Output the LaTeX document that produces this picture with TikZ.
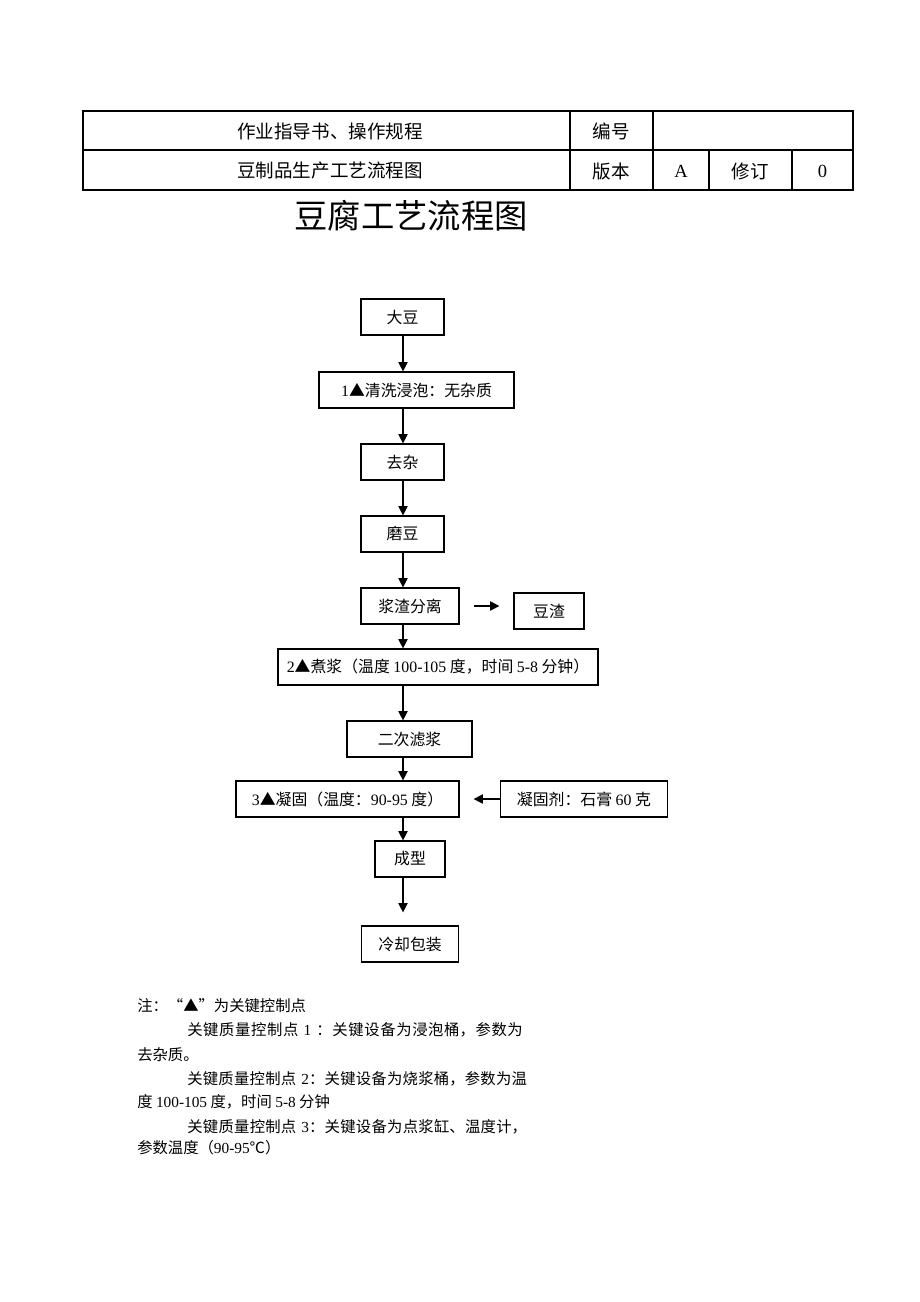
\documentclass[tikz,border=0pt]{standalone}
\usepackage{fontspec}
\setmainfont{Liberation Serif}
\newfontfamily\zh{Noto Sans CJK SC}
\usetikzlibrary{arrows.meta,positioning}
\XeTeXlinebreaklocale "zh"
\XeTeXlinebreakskip=0pt plus 2pt
\newcommand\lat[1]{{\rmfamily #1}}

\begin{document}
\begin{tikzpicture}[x=0.75pt,y=-0.75pt,
    box/.style={draw, line width=0.9pt, inner sep=0pt, minimum height=27pt,
      font=\zh\fontsize{11.9}{14}\selectfont},
    wd/.style={minimum width=#1*0.75pt},
    arr/.style={-{Triangle[length=7pt,width=7pt]}, line width=0.9pt},
    cell/.style={inner sep=0pt, font=\zh\fontsize{13.9}{16}\selectfont},
    note/.style={anchor=west, inner sep=0pt, font=\zh\fontsize{11.5}{14}\selectfont}]
  \useasboundingbox (0,0) rectangle (920,1302);

  \draw[line width=0.8pt] (83,111) rectangle (853,190);
  \draw[line width=0.8pt] (83,150) -- (853,150)
    (570,111) -- (570,190) (653,111) -- (653,190)
    (709,150) -- (709,190) (792,150) -- (792,190);
  \node[cell] (zuoye) at (330,131) {作业指导书、操作规程};
  \node[cell] (bianhao) at (611.5,131) {编号};
  \node[cell] (douzhi) at (330,171) {豆制品生产工艺流程图};
  \node[cell] (banben) at (611.5,171) {版本};
  \node[cell] (verA) at (681,171) {\lat{A}};
  \node[cell] (xiuding) at (750.5,171) {修订};
  \node[cell] (rev0) at (822.5,171) {\lat{0}};

  \node[font=\zh\fontsize{25}{30}\selectfont] (title) at (411,216) {豆腐工艺流程图};

  \node[box, wd=83] (dadou) at (402.5,317) {大豆};
  \node[box, wd=195] (qingxi) at (416.5,390) {\lat{1}▲清洗浸泡：无杂质};
  \node[box, wd=83] (quza) at (402.5,462) {去杂};
  \node[box, wd=83] (modou) at (402.5,534) {磨豆};
  \node[box, wd=98] (fenli) at (410,606) {浆渣分离};
  \node[box, wd=70] (douzha) at (549,611) {豆渣};
  \node[box, wd=320] (zhujiang) at (438,667) {\lat{2}▲煮浆（温度 \lat{100-105} 度，时间 \lat{5-8} 分钟）};
  \node[box, wd=125] (lvjiang) at (409.5,739) {二次滤浆};
  \node[box, wd=223] (ninggu) at (347.5,799) {\lat{3}▲凝固（温度：\lat{90-95} 度）};
  \node[box, wd=167] (jieji) at (584,799) {凝固剂：石膏 \lat{60} 克};
  \node[box, wd=70] (chengxing) at (410,859) {成型};
  \node[box, wd=97] (lengque) at (410,944) {冷却包装};

  \coordinate (ax) at (403,0);
  \draw[arr] (ax |- dadou.south) -- (ax |- qingxi.north);
  \draw[arr] (ax |- qingxi.south) -- (ax |- quza.north);
  \draw[arr] (ax |- quza.south) -- (ax |- modou.north);
  \draw[arr] (ax |- modou.south) -- (ax |- fenli.north);
  \draw[arr] (ax |- fenli.south) -- (ax |- zhujiang.north);
  \draw[arr] (ax |- zhujiang.south) -- (ax |- lvjiang.north);
  \draw[arr] (ax |- lvjiang.south) -- (ax |- ninggu.north);
  \draw[arr] (ax |- ninggu.south) -- (ax |- chengxing.north);
  \draw[arr, shorten >=9.75pt] (ax |- chengxing.south) -- (ax |- lengque.north);
  \draw[arr] ([xshift=10.5pt]fenli.east) -- ([xshift=-10.5pt]fenli.east -| douzha.west);
  \draw[arr] (jieji.west) -- ([xshift=10.5pt]ninggu.east);

  \node[note] (n1) at (137,1006) {注：“▲”为关键控制点};
  \node[note, text width=257.25pt] (n2) at (187,1030)
    {\noindent\parfillskip=0pt\relax 关键质量控制点 \lat{1} ：关键设备为浸泡桶，参数为\par};
  \node[note] (n3) at (137,1055) {去杂质。};
  \node[note, text width=257.25pt] (n4) at (187,1079)
    {\noindent\parfillskip=0pt\relax 关键质量控制点 \lat{2}：关键设备为烧浆桶，参数为温\par};
  \node[note] (n5) at (137,1102) {度 \lat{100-105} 度，时间 \lat{5-8} 分钟};
  \node[note, text width=257.25pt] (n6) at (187,1127)
    {\noindent\parfillskip=0pt\relax 关键质量控制点 \lat{3}：关键设备为点浆缸、温度计，\par};
  \node[note] (n7) at (137,1148) {参数温度（\lat{90-95}℃）};
\end{tikzpicture}
\end{document}
